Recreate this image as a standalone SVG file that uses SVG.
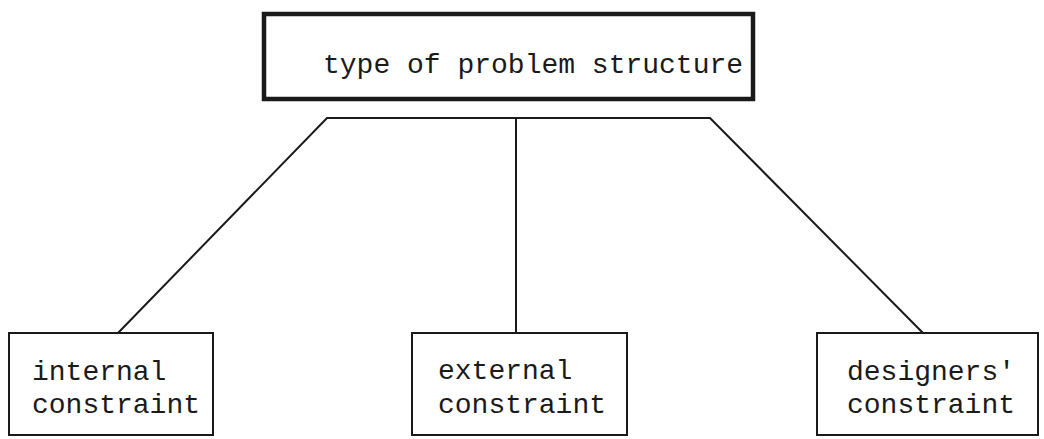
<svg xmlns="http://www.w3.org/2000/svg" width="1044" height="439" viewBox="0 0 1044 439">
<style>
.box{fill:#fff;stroke:#1a1a1a;stroke-width:2}
.top{fill:#fff;stroke:#1a1a1a;stroke-width:4.5}
.lbl{font-family:"Liberation Mono","DejaVu Sans Mono",monospace;font-size:28px;fill:#1a1a1a}
.conn{fill:none;stroke:#1a1a1a;stroke-width:2}
</style>
<rect width="1044" height="439" fill="#fff"/>
<g id="connectors">
<polyline class="conn" points="118,333 327,118 710,118 923,333"/>
<line class="conn" x1="516" y1="118" x2="516" y2="333"/>
</g>
<g id="node-root">
<rect class="top" x="264" y="14" width="489" height="85"/>
<text class="lbl" x="323" y="73">type of problem structure</text>
</g>
<g id="node-internal">
<rect class="box" x="9" y="333" width="204" height="102"/>
<text class="lbl" x="32" y="380">internal</text>
<text class="lbl" x="32" y="413">constraint</text>
</g>
<g id="node-external">
<rect class="box" x="412" y="333" width="215" height="102"/>
<text class="lbl" x="438" y="379">external</text>
<text class="lbl" x="438" y="413">constraint</text>
</g>
<g id="node-designers">
<rect class="box" x="817" y="333" width="221" height="102"/>
<text class="lbl" x="847" y="380">designers'</text>
<text class="lbl" x="847" y="413">constraint</text>
</g>
</svg>
